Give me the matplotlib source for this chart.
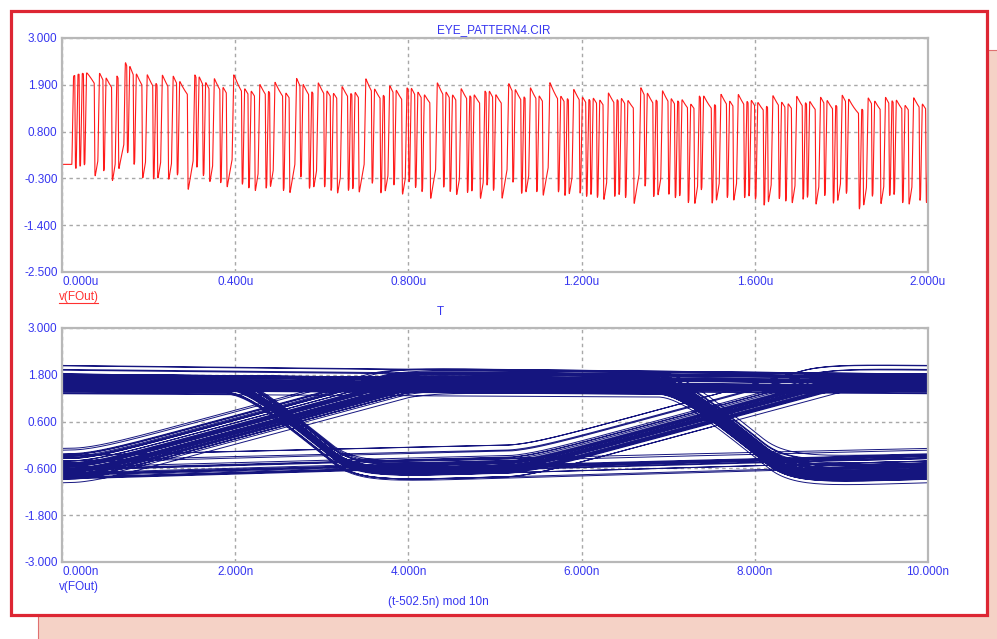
import numpy as np
import matplotlib
matplotlib.use("Agg")
import matplotlib.pyplot as plt
from matplotlib.patches import Rectangle
from matplotlib.lines import Line2D

# ---------------- data (read / estimated from the picture) ----------------
# bit stream driving the simulated output, one bit every 5 ns
bits = (
    "1010101111001101110010001011011100111010"
    "0111001101111000101101100111011000111101"
    "1011001110100111101100011011101001110110"
    "1100111010110001110111010011011100101101"
    "1011100011101101100111010111001011011100"
    "0110111010011101100011110110100111011010"
    "1101100111010110111000110111010011101101"
    "0111011001011110100111011001110101101110"
    "1001110110110011101011100110111010011011"
    "1110100110111001101011101100111011010011"
)
bit_period_ns = 5.0
first_edge_ns = 22.7
fall_delay_ns = 1.75
rise_slew = 0.6        # V / ns
fall_slew = 1.8        # V / ns
start_level = 0.03     # V before the first edge
wander_tau_ns = 40.0
wander_high = 2.6
wander_low = 3.6

# envelope of the high / low levels read at these times
env_t_us = [0.0, 0.2, 0.4, 0.8, 1.2, 1.6, 2.0]
env_high = [2.10, 1.97, 1.84, 1.74, 1.65, 1.58, 1.54]
env_low = [-0.12, -0.32, -0.45, -0.56, -0.64, -0.70, -0.73]

top_xticks = [0.0, 0.4, 0.8, 1.2, 1.6, 2.0]
top_yticks = [3.0, 1.9, 0.8, -0.3, -1.4, -2.5]
bot_xticks = [0.0, 2.0, 4.0, 6.0, 8.0, 10.0]
bot_yticks = [3.0, 1.8, 0.6, -0.6, -1.8, -3.0]
eye_offset_ns = 502.5
eye_period_ns = 10.0

title_top = "EYE_PATTERN4.CIR"
title_bot = "T"
ylabel_name = "v(FOut)"
xlabel_bot = "(t-502.5n) mod 10n"

# ---------------- waveform simulation ----------------
dt = 0.05
t = np.arange(0.0, 2000.0 + dt / 2, dt)
hi = np.interp(t / 1000.0, env_t_us, env_high)
lo = np.interp(t / 1000.0, env_t_us, env_low)

events = []
prev = None
for k, ch in enumerate(bits):
    b = int(ch)
    tb = first_edge_ns + k * bit_period_ns
    if tb > 2000:
        break
    if b != prev:
        events.append((tb if b == 1 else tb + fall_delay_ns, b))
    prev = b
state = np.full(t.shape, -1)
for (tev, b) in events:
    state[t >= tev] = b

# baseline wander driven by the recent bit density (zero mean)
s = np.where(state == 1, 0.5, np.where(state == 0, -0.5, 0.0))
w = np.empty_like(s)
w[0] = 0.0
aw = dt / wander_tau_ns
for i in range(1, len(t)):
    w[i] = w[i - 1] + (s[i] - w[i - 1]) * aw
w = w - w[t > 80].mean()
w[t < first_edge_ns] = 0.0
w[t < 80] *= np.clip((t[t < 80] - first_edge_ns) / 60.0, 0, 1)
hi_eff = hi - wander_high * w
lo_eff = lo - wander_low * w
target = np.where(state == 1, hi_eff, np.where(state == 0, lo_eff, start_level))

v = np.empty_like(t)
v[0] = start_level
for i in range(1, len(t)):
    d = target[i] - v[i - 1]
    d = min(max(d, -fall_slew * dt), rise_slew * dt)
    v[i] = v[i - 1] + d
y = np.empty_like(v)
y[0] = v[0]
a = dt / 0.3
for i in range(1, len(t)):
    y[i] = y[i - 1] + (v[i] - y[i - 1]) * a

# eye folding (continue each sweep to the right edge, restart at the left edge)
m = t >= eye_offset_ns
te = t[m] - eye_offset_ns
xe = np.mod(te, eye_period_ns)
ye = y[m]
wrap = np.where(np.diff(xe) < 0)[0] + 1
xs, ys = [], []
startidx = 0
for wi in list(wrap) + [len(xe)]:
    seg_x = xe[startidx:wi]
    seg_y = ye[startidx:wi]
    if wi < len(xe):
        seg_x = np.append(seg_x, eye_period_ns)
        seg_y = np.append(seg_y, ye[wi])
    xs.append(seg_x)
    ys.append(seg_y)
    xs.append([np.nan])
    ys.append([np.nan])
    startidx = wi
xe = np.concatenate(xs)
ye = np.concatenate(ys)

# ---------------- figure ----------------
W, H = 997, 639
fig = plt.figure(figsize=(W / 100, H / 100), dpi=100)
fig.patch.set_facecolor("white")
plt.rcParams["font.family"] = ["Liberation Sans", "DejaVu Sans"]

def fx(px):
    return px / W

def fy(py):
    return 1 - py / H

# decorative frames
fig.patches.append(Rectangle((fx(38), fy(700)), fx(1100) - fx(38), fy(50) - fy(700),
                             transform=fig.transFigure, facecolor="#F5D2C6",
                             edgecolor="#E07070", lw=0.8, zorder=0))
fig.patches.append(Rectangle((fx(11), fy(615)), fx(987) - fx(11), fy(11) - fy(615),
                             transform=fig.transFigure, facecolor="white",
                             edgecolor="#DD2633", lw=2.3, zorder=1))

blue = "#3636F0"
grid_c = "#A8A8A8"
frame_c = "#B8B8B8"
fs = 8.5

def style(ax, xt, yt, xfmt, xlim, ylim):
    ax.set_xlim(*xlim)
    ax.set_ylim(*ylim)
    ax.set_xticks(xt)
    ax.set_yticks(yt)
    ax.set_xticklabels([xfmt(v_) for v_ in xt])
    ax.set_yticklabels(["%.3f" % v_ for v_ in yt])
    ax.tick_params(length=0, labelsize=fs, labelcolor=blue, pad=3.2)
    ax.grid(True, color=grid_c, ls=(0, (2.5, 2.5)), lw=1.0)
    for sp in ax.spines.values():
        sp.set_color(frame_c)
        sp.set_linewidth(1.6)
    ax.set_facecolor("none")
    lbls = ax.get_xticklabels()
    lbls[0].set_horizontalalignment("left")

axw = fx(928) - fx(62)
axh = (272 - 38) / H
ax1 = fig.add_axes([fx(62), fy(272), axw, axh], zorder=3)
ax2 = fig.add_axes([fx(62), fy(562), axw, axh], zorder=3)

ax1.plot(t / 1000.0, y, color="#FF1A1A", lw=0.8)
style(ax1, top_xticks, top_yticks, lambda v_: "%.3fu" % v_, (0, 2.0), (-2.5, 3.0))

ax2.plot(xe, ye, color="#15157F", lw=0.7)
style(ax2, bot_xticks, bot_yticks, lambda v_: "%.3fn" % v_, (0, 10.0), (-3.0, 3.0))

fig.text(fx(437), fy(30), title_top, color=blue, fontsize=fs, ha="left", va="center", zorder=5)
fig.text(fx(437), fy(312), title_bot, color=blue, fontsize=fs, ha="left", va="center", zorder=5)
fig.text(fx(59), fy(297), ylabel_name, color="#FF3030", fontsize=fs, ha="left", va="center", zorder=5)
fig.add_artist(Line2D([fx(59), fx(98)], [fy(303), fy(303)], transform=fig.transFigure,
                      color="#FF3030", lw=0.8, zorder=5))
fig.text(fx(59), fy(587), ylabel_name, color=blue, fontsize=fs, ha="left", va="center", zorder=5)
fig.text(fx(388), fy(602), xlabel_bot, color=blue, fontsize=fs, ha="left", va="center", zorder=5)

fig.savefig("out.png", dpi=100, facecolor="white")
